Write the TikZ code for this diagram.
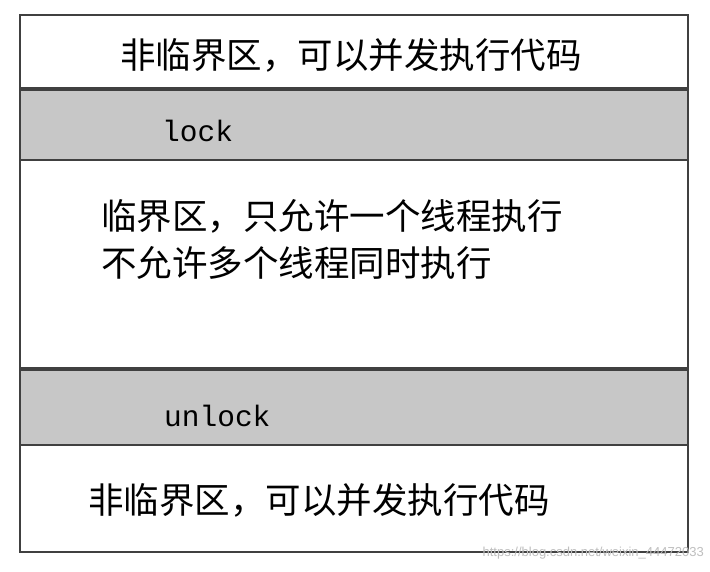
\documentclass[tikz,border=0pt]{standalone}
\usepackage{fontspec}
\newfontfamily\cjk{Noto Sans CJK SC}
\setmonofont{Liberation Mono}
\begin{document}
\begin{tikzpicture}[x=1pt,y=-1pt,
  band/.style={draw=black!75,line width=1.5pt},
  cn/.style={font=\cjk\fontsize{35.5}{40}\selectfont,inner sep=0,anchor=west},
  mono/.style={font=\ttfamily\fontsize{29.5}{32}\selectfont,inner sep=0,anchor=west}]
\useasboundingbox (0,0) rectangle (710,572);
\fill[white] (0,0) rectangle (710,572);
\draw[band,fill=white] (20,15) rectangle (688,88);
\draw[band,fill=black!22] (20,90) rectangle (688,160);
\draw[band,fill=white] (20,160) rectangle (688,368);
\draw[band,fill=black!22] (20,370) rectangle (688,445);
\draw[band,fill=white] (20,445) rectangle (688,552);
\node[cn] (t1) at (120,55) {非临界区，可以并发执行代码};
\node[mono] (l) at (162,131) {lock};
\node[cn] (t2) at (101,216) {临界区，只允许一个线程执行};
\node[cn] (t3) at (101,263) {不允许多个线程同时执行};
\node[mono] (u) at (164,416) {unlock};
\node[cn] (t4) at (88,500) {非临界区，可以并发执行代码};
\node[font=\fontspec{Liberation Sans}\fontsize{13}{14}\selectfont,text=black!25,anchor=east,inner sep=0] (w) at (704,553) {https://blog.csdn.net/weixin\_44472033};
\end{tikzpicture}
\end{document}
